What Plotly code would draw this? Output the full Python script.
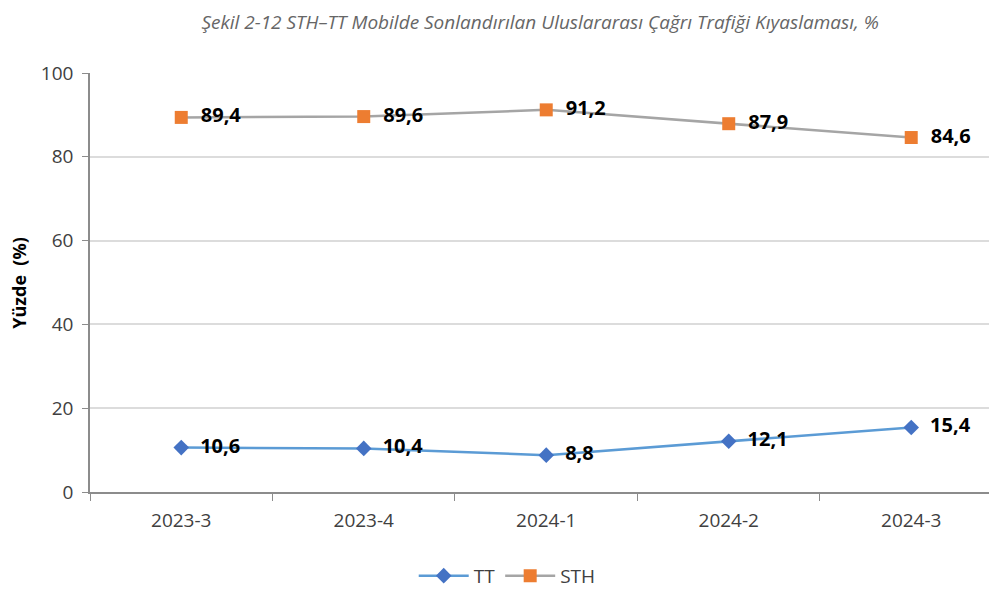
import plotly.graph_objects as go

categories = ["2023-3", "2023-4", "2024-1", "2024-2", "2024-3"]
tt_values = [10.6, 10.4, 8.8, 12.1, 15.4]
sth_values = [89.4, 89.6, 91.2, 87.9, 84.6]
y_ticks = [0, 20, 40, 60, 80, 100]

def fmt(v):
    return "  " + f"{v:.1f}".replace(".", ",")

fig = go.Figure()
fig.add_trace(go.Scatter(
    x=categories, y=tt_values, name="TT", mode="lines+markers+text",
    line=dict(color="#5B9BD5", width=2.5),
    marker=dict(symbol="diamond", size=12, color="#4472C4"),
    text=[fmt(v) for v in tt_values], textposition="middle right",
    textfont=dict(family="Open Sans", size=20, color="#000000", weight="bold"),
    cliponaxis=False,
))
fig.add_trace(go.Scatter(
    x=categories, y=sth_values, name="STH", mode="lines+markers+text",
    line=dict(color="#A5A5A5", width=2.5),
    marker=dict(symbol="square", size=13, color="#ED7D31"),
    text=[fmt(v) for v in sth_values], textposition="middle right",
    textfont=dict(family="Open Sans", size=20, color="#000000", weight="bold"),
    cliponaxis=False,
))

fig.update_layout(
    width=989, height=606,
    margin=dict(l=82, r=0, t=65, b=122, autoexpand=False),
    paper_bgcolor="white", plot_bgcolor="white",
    font=dict(family="Open Sans", color="#404040"),
    title=dict(
        text="<i>Şekil 2-12 STH–TT Mobilde Sonlandırılan Uluslararası Çağrı Trafiği Kıyaslaması, %</i>",
        x=0.538, xanchor="center", y=0.976, yanchor="middle",
        font=dict(family="Open Sans", size=19, color="#666666"),
    ),
    legend=dict(
        orientation="h", x=0.46, xanchor="center", y=-0.2, yanchor="middle",
        font=dict(family="Open Sans", size=19, color="#404040"),
        itemwidth=50, traceorder="normal",
    ),
    showlegend=True,
)
fig.update_xaxes(
    type="category", range=[-0.5, 4.47],
    showline=True, linecolor="#8c8c8c", linewidth=1.5,
    ticks="outside", tickson="boundaries", ticklen=7, tickcolor="#8c8c8c",
    showgrid=False, ticklabelstandoff=10,
    tickfont=dict(family="Open Sans", size=19, color="#404040"),
)
fig.update_yaxes(
    range=[0, 100], tickvals=y_ticks,
    showline=True, linecolor="#8c8c8c", linewidth=1.5,
    ticks="outside", ticklen=6, tickcolor="#8c8c8c",
    showgrid=True, gridcolor="#dcdcdc", gridwidth=1.5,
    zeroline=False, ticklabelstandoff=5,
    tickfont=dict(family="Open Sans", size=19, color="#404040"),
)
fig.add_annotation(
    text="<b>Yüzde  (%)</b>", textangle=-90,
    xref="paper", yref="paper", x=-0.079, y=0.5, xanchor="center", yanchor="middle",
    showarrow=False, font=dict(family="Open Sans", size=18, color="#000000"),
)

fig.write_html("out.html")
